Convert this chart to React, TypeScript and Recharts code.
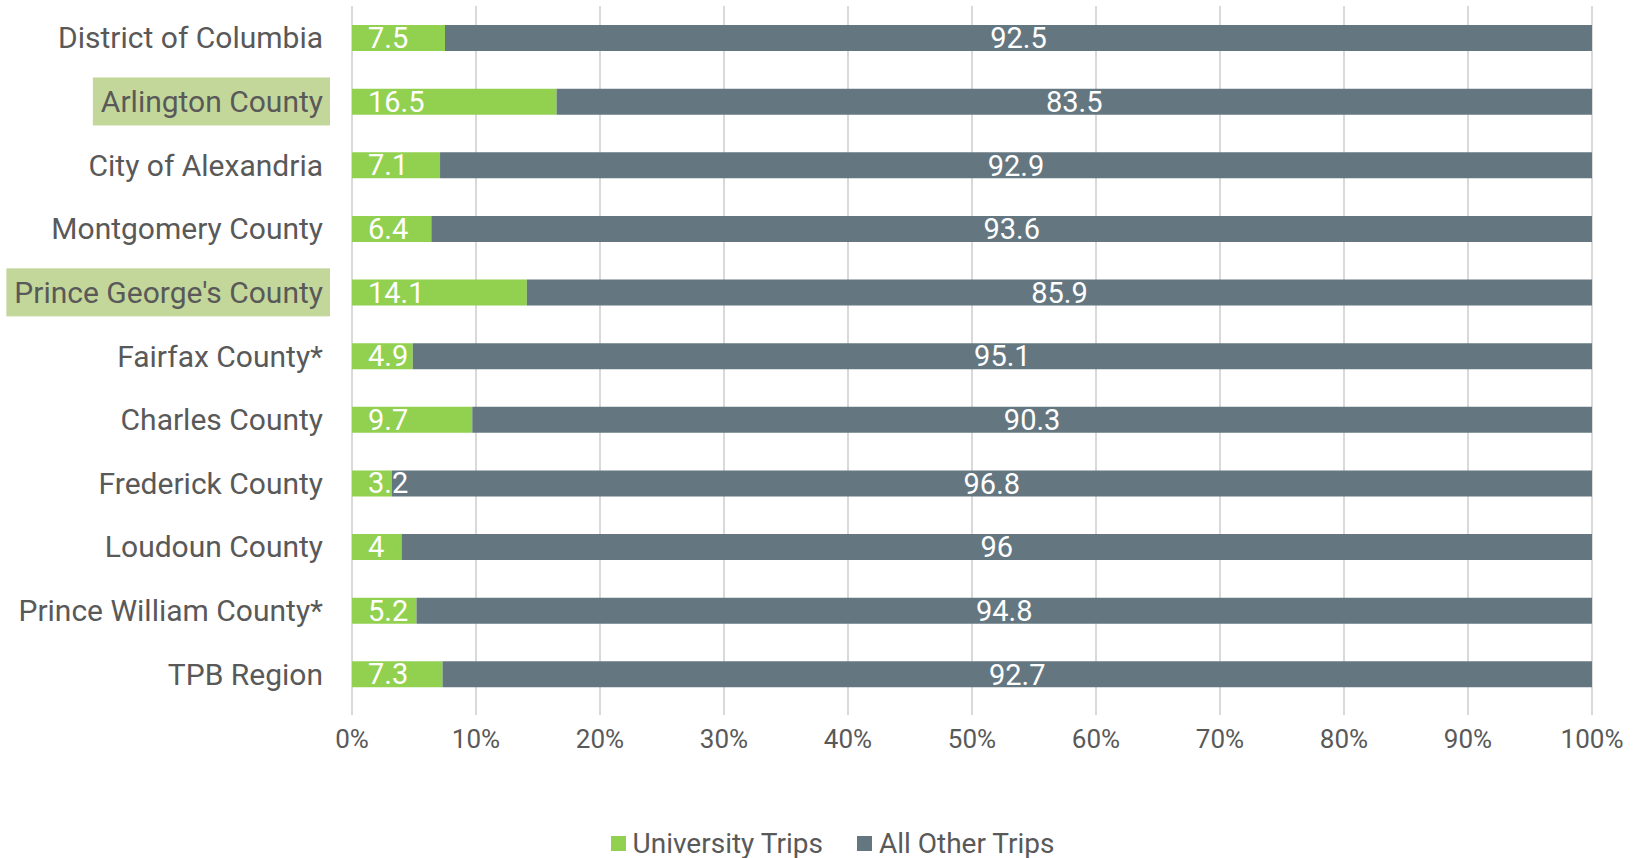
import { Bar, BarChart, CartesianGrid, LabelList, Legend, XAxis, YAxis } from "recharts";

const categories = [
  "District of Columbia",
  "Arlington County",
  "City of Alexandria",
  "Montgomery County",
  "Prince George's County",
  "Fairfax County*",
  "Charles County",
  "Frederick County",
  "Loudoun County",
  "Prince William County*",
  "TPB Region",
];
const universityTrips = [7.5, 16.5, 7.1, 6.4, 14.1, 4.9, 9.7, 3.2, 4, 5.2, 7.3];
const otherTrips = [92.5, 83.5, 92.9, 93.6, 85.9, 95.1, 90.3, 96.8, 96, 94.8, 92.7];
const highlighted = ["Arlington County", "Prince George's County"];
const xTicks = [0, 10, 20, 30, 40, 50, 60, 70, 80, 90, 100];

const GREEN = "#92d050";
const SLATE = "#647781";
const TEXT = "#595959";
const FONT = "Roboto, sans-serif";

const data = categories.map((name, i) => ({
  name,
  university: universityTrips[i],
  other: otherTrips[i],
}));

function measure(text: string, font: string) {
  const ctx = document.createElement("canvas").getContext("2d");
  if (!ctx) return text.length * 14;
  ctx.font = font;
  return ctx.measureText(text).width;
}

function CategoryTick(props: any) {
  const { x, y, payload } = props;
  const label = String(payload.value);
  const hi = highlighted.includes(label);
  const w = hi ? measure(label, `30px ${FONT}`) : 0;
  return (
    <g>
      {hi && <rect x={x - w - 8} y={y - 24} width={w + 15} height={48} fill="#c4d79b" />}
      <text x={x} y={y} textAnchor="end" dominantBaseline="central" fill={TEXT} fontSize={30} fontFamily={FONT}>
        {label}
      </text>
    </g>
  );
}

function GreenLabel(props: any) {
  const { x, y, height, value } = props;
  return (
    <text x={x + 16} y={y + height / 2} dominantBaseline="central" fill="#fff" fontSize={29} fontFamily={FONT}>
      {value}
    </text>
  );
}

function LegendBox() {
  const items = [
    { label: "University Trips", color: GREEN },
    { label: "All Other Trips", color: SLATE },
  ];
  return (
    <div style={{ height: 92, display: "flex", alignItems: "flex-end", justifyContent: "center", paddingLeft: 73, boxSizing: "border-box" }}>
      {items.map((it) => (
        <div key={it.label} style={{ display: "flex", alignItems: "center", margin: "0 17px", height: 30 }}>
          <span style={{ width: 15, height: 15, background: it.color, marginRight: 7, display: "inline-block" }} />
          <span style={{ fontFamily: FONT, fontSize: 28, color: TEXT }}>{it.label}</span>
        </div>
      ))}
    </div>
  );
}

export default function App() {
  return (
    <div style={{ width: 1641, height: 858 }}>
      <style>{"body{margin:0}"}</style>
      <BarChart
        layout="vertical"
        width={1641}
        height={858}
        data={data}
        margin={{ top: 6, right: 49, bottom: 0, left: 0 }}
        barSize={26}
      >
        <CartesianGrid horizontal={false} stroke="#d9d9d9" strokeWidth={2} />
        <XAxis
          type="number"
          domain={[0, 100]}
          ticks={xTicks}
          tickFormatter={(v) => `${v}%`}
          axisLine={false}
          tickLine={{ stroke: "#d9d9d9", strokeWidth: 2 }}
          tickSize={9}
          tickMargin={15}
          height={60}
          tick={{ fill: TEXT, fontSize: 26, fontFamily: FONT }}
        />
        <YAxis
          type="category"
          dataKey="name"
          width={352}
          axisLine={false}
          tickLine={false}
          tickSize={0}
          tickMargin={29}
          interval={0}
          tick={<CategoryTick />}
        />
        <Legend verticalAlign="bottom" content={<LegendBox />} />
        <Bar dataKey="university" name="University Trips" stackId="a" fill={GREEN} isAnimationActive={false}>
          <LabelList dataKey="university" content={<GreenLabel />} />
        </Bar>
        <Bar dataKey="other" name="All Other Trips" stackId="a" fill={SLATE} isAnimationActive={false}>
          <LabelList dataKey="other" position="center" fill="#fff" fontSize={29} fontFamily={FONT} />
        </Bar>
      </BarChart>
    </div>
  );
}
